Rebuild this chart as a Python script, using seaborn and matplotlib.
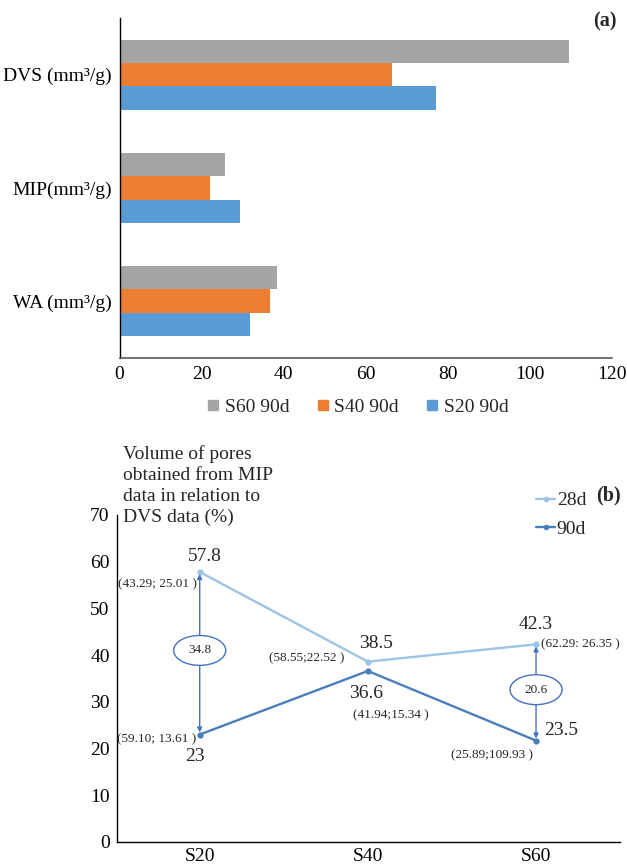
import numpy as np
import pandas as pd
import matplotlib
matplotlib.use("Agg")
import matplotlib.pyplot as plt
from matplotlib.lines import Line2D
from matplotlib.patches import Ellipse
import seaborn as sns

# ---- data (a) ----
metrics = ["DVS (mm³/g)", "MIP(mm³/g)", "WA (mm³/g)"]
samples = ["S60 90d", "S40 90d", "S20 90d"]
s60_90d = [109.5, 25.7, 38.4]
s40_90d = [66.4, 22.0, 36.8]
s20_90d = [77.2, 29.3, 31.8]
bar_colors = ["#A5A5A5", "#ED7D31", "#5B9BD5"]

# ---- data (b) ----
mixes = ["S20", "S40", "S60"]
ratio_28d = [57.8, 38.6, 42.3]
ratio_90d = [23.0, 36.6, 21.7]
labels_28d = ["57.8", "38.5", "42.3"]
labels_90d = ["23", "36.6", "23.5"]
coords_28d = ["(43.29; 25.01 )", "(58.55;22.52 )", "(62.29: 26.35 )"]
coords_90d = ["(59.10; 13.61 )", "(41.94;15.34 )", "(25.89;109.93 )"]
diff_labels = {0: "34.8", 2: "20.6"}
line_colors = {"28d": "#9DC3E6", "90d": "#4A7EBB"}
arrow_color = "#4472C4"

FS = 14

sns.set_theme(style="white")
plt.rcParams["font.family"] = ["Liberation Serif", "DejaVu Serif"]
plt.rcParams["font.size"] = FS

fig = plt.figure(figsize=(6.27, 8.64), dpi=100)

# ---------------- (a) horizontal bars ----------------
ax1 = fig.add_axes([0.1906, 0.586, 0.785, 0.393])
df1 = pd.DataFrame({
    "metric": metrics * 3,
    "value": s60_90d + s40_90d + s20_90d,
    "sample": [s for s in samples for _ in metrics],
})
sns.barplot(data=df1, y="metric", x="value", hue="sample", hue_order=samples,
            order=metrics, palette=bar_colors, orient="h", width=0.62, gap=0,
            saturation=1, linewidth=0, legend=False, ax=ax1)
ax1.set_xlim(0, 120)
ax1.set_xticks(range(0, 121, 20))
ax1.set_ylim(2.5, -0.5)
ax1.set_xlabel("")
ax1.set_ylabel("")
ax1.tick_params(axis="both", length=0, labelsize=FS, colors="black")
ax1.tick_params(axis="x", pad=6)
ax1.tick_params(axis="y", pad=5.5)
for side in ["top", "right"]:
    ax1.spines[side].set_visible(False)
ax1.spines["left"].set_color("black")
ax1.spines["bottom"].set_color("#595959")
ax1.spines["left"].set_linewidth(1)
ax1.spines["bottom"].set_linewidth(1.2)

handles = [Line2D([], [], marker="s", ls="", color=c, markersize=7.5) for c in bar_colors]
fig.legend(handles, samples, loc="center", bbox_to_anchor=(0.571, 0.529), ncol=3,
           frameon=False, handlelength=0.6, handletextpad=0.3, columnspacing=1.4,
           fontsize=FS)
fig.text(0.983, 0.975, "(a)", ha="right", va="center", fontsize=14.5, fontweight="bold")

# ---------------- (b) lines ----------------
ax2 = fig.add_axes([0.186, 0.0255, 0.803, 0.3785])
df2 = pd.DataFrame({
    "pos": list(range(len(mixes))) * 2,
    "value": ratio_28d + ratio_90d,
    "age": ["28d"] * len(mixes) + ["90d"] * len(mixes),
})
sns.lineplot(data=df2, x="pos", y="value", hue="age", palette=line_colors,
             marker="o", markersize=4.5, markeredgewidth=0, linewidth=1.7,
             legend=False, ax=ax2)
ax2.set_xlim(-0.494, 2.5)
ax2.set_ylim(0, 70)
ax2.set_yticks(range(0, 71, 10))
ax2.set_xticks(range(len(mixes)))
ax2.set_xticklabels(mixes)
ax2.set_xlabel("")
ax2.set_ylabel("")
ax2.tick_params(axis="both", length=0, labelsize=FS, colors="black")
ax2.tick_params(axis="x", pad=4)
ax2.tick_params(axis="y", pad=5)
for side in ["top", "right"]:
    ax2.spines[side].set_visible(False)
for side in ["left", "bottom"]:
    ax2.spines[side].set_color("black")
    ax2.spines[side].set_linewidth(1)

# difference arrows with ellipse labels
ell_w, ell_h = 0.31, 6.4
for i, txt in diff_labels.items():
    mid = (ratio_28d[i] + ratio_90d[i]) / 2 + 0.6
    ax2.annotate("", xy=(i, ratio_28d[i]), xytext=(i, mid + ell_h / 2),
                 arrowprops=dict(arrowstyle="-|>", color=arrow_color, lw=1,
                                 shrinkA=0, shrinkB=1.5, mutation_scale=7))
    ax2.annotate("", xy=(i, ratio_90d[i]), xytext=(i, mid - ell_h / 2),
                 arrowprops=dict(arrowstyle="-|>", color=arrow_color, lw=1,
                                 shrinkA=0, shrinkB=1.5, mutation_scale=7))
    ax2.add_patch(Ellipse((i, mid), ell_w, ell_h, fc="white", ec=arrow_color, lw=1, zorder=3))
    ax2.text(i, mid, txt, ha="center", va="center", fontsize=9.5, zorder=4)

# value and coordinate labels (offsets in pixels)
val_off_28 = [(5, 15), (8, 18), (0, 20)]
val_off_90 = [(-5, -22), (-2, -23), (25, 10)]
crd_off_28 = [(-3, -12, "right"), (-23, 3, "right"), (5, 0, "left")]
crd_off_90 = [(-3, -5, "right"), (23, -44, "center"), (-3, -15, "right")]
for i in range(len(mixes)):
    ax2.annotate(labels_28d[i], (i, ratio_28d[i]), xytext=val_off_28[i],
                 textcoords="offset pixels", ha="center", va="center", fontsize=FS)
    ax2.annotate(labels_90d[i], (i, ratio_90d[i]), xytext=val_off_90[i],
                 textcoords="offset pixels", ha="center", va="center", fontsize=FS)
    dx, dy, ha = crd_off_28[i]
    ax2.annotate(coords_28d[i], (i, ratio_28d[i]), xytext=(dx, dy),
                 textcoords="offset pixels", ha=ha, va="center", fontsize=9.5)
    dx, dy, ha = crd_off_90[i]
    ax2.annotate(coords_90d[i], (i, ratio_90d[i]), xytext=(dx, dy),
                 textcoords="offset pixels", ha=ha, va="center", fontsize=9.5)

fig.text(123 / 627, 1 - 445 / 864,
         "Volume of pores\nobtained from MIP\ndata in relation to\nDVS data (%)",
         ha="left", va="top", fontsize=FS, linespacing=1.3)

line_handles = [Line2D([], [], color=line_colors[k], marker="o", markersize=4,
                       markeredgewidth=0, lw=1.7) for k in ["28d", "90d"]]
fig.legend(line_handles, ["28d", "90d"], loc="upper left",
           bbox_to_anchor=(0.84, 1 - 482 / 864), frameon=False,
           handlelength=0.95, handletextpad=0.1, labelspacing=0.55,
           borderpad=0, fontsize=FS)
fig.text(0.99, 1 - 495 / 864, "(b)", ha="right", va="center", fontsize=14.5, fontweight="bold")

fig.savefig("out.png", dpi=100)
